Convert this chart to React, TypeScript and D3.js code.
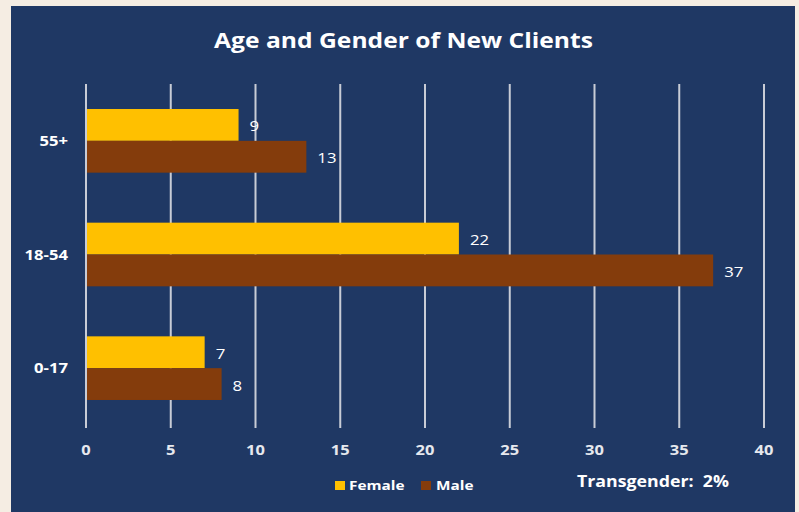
import React from "react";
import * as d3 from "d3";

const categories = ["55+", "18-54", "0-17"];
const female = [9, 22, 7];
const male = [13, 37, 8];
const xTicks = [0, 5, 10, 15, 20, 25, 30, 35, 40];
const title = "Age and Gender of New Clients";
const seriesNames = ["Female", "Male"];
const note = "Transgender:  2%";

const W = 799, H = 512;
const FEMALE = "#FFC000", MALE = "#843C0C";
const BG = "#1F3864", OUTER = "#F5EDE3";
const FONT = "'Open Sans', sans-serif";

function T({ x, y, sx = 1, anchor = "start", size, bold = false, fill = "#fff", children }: any) {
  return (
    <text
      transform={`translate(${x},${y}) scale(${sx},1)`}
      textAnchor={anchor}
      fill={fill}
      fontFamily={FONT}
      fontWeight={bold ? "bold" : "normal"}
      fontSize={size}
      style={{ whiteSpace: "pre" }}
    >
      {children}
    </text>
  );
}

export default function App() {
  const x = d3.scaleLinear().domain([0, 40]).range([86, 764]);
  const y = d3.scaleBand().domain(categories).range([84, 425]).paddingInner(0.44).paddingOuter(0.22);
  const bw = y.bandwidth() / 2;
  return (
    <div style={{ position: "absolute", left: 0, top: 0 }}>
      <svg width={W} height={H} style={{ display: "block" }}>
        <rect x={0} y={0} width={W} height={H} fill={OUTER} />
        <rect x={11} y={6} width={784} height={H - 6} fill={BG} />
        <T x={403.5} y={48} sx={1.12} anchor="middle" size={22} bold>{title}</T>
        {xTicks.map((t) => (
          <g key={t}>
            <line x1={x(t)} x2={x(t)} y1={84} y2={428} stroke="#C8CCD6" strokeWidth={2} />
            <T x={x(t)} y={455} sx={1.1} anchor="middle" size={15} bold fill="#E6E8EE">{t}</T>
          </g>
        ))}
        {categories.map((c, i) => {
          const y0 = y(c)!;
          return (
            <g key={c}>
              <T x={68} y={y0 + bw + 5} sx={1.15} anchor="end" size={14.5} bold>{c}</T>
              <rect x={x(0) + 1} y={y0} width={x(female[i]) - x(0) - 1} height={bw} fill={FEMALE} />
              <rect x={x(0) + 1} y={y0 + bw} width={x(male[i]) - x(0) - 1} height={bw} fill={MALE} />
              <T x={x(female[i]) + 11} y={y0 + bw / 2 + 6.5} sx={1.2} size={14}>{female[i]}</T>
              <T x={x(male[i]) + 11} y={y0 + bw + bw / 2 + 6.5} sx={1.2} size={14}>{male[i]}</T>
            </g>
          );
        })}
        <rect x={335} y={481} width={10} height={9} fill={FEMALE} />
        <T x={349} y={490} sx={1.18} size={13} bold>{seriesNames[0]}</T>
        <rect x={421} y={481} width={10} height={9} fill={MALE} />
        <T x={436} y={490} sx={1.18} size={13} bold>{seriesNames[1]}</T>
        <T x={577} y={487} sx={1.11} size={16} bold>{note}</T>
      </svg>
    </div>
  );
}
